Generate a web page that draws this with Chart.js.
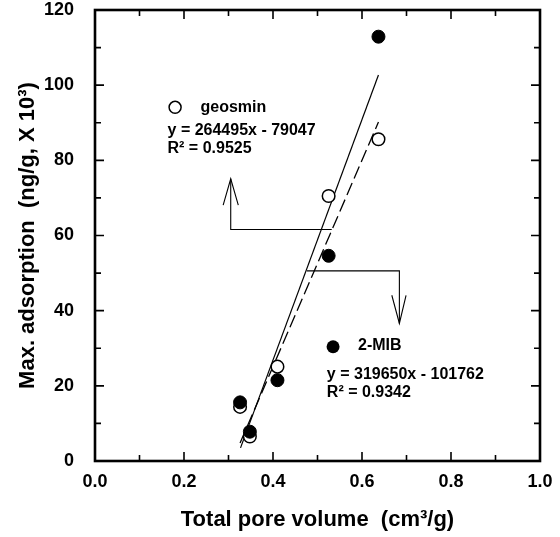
<!DOCTYPE html>
<html>
<head>
<meta charset="utf-8">
<script src="https://cdn.jsdelivr.net/npm/chart.js@4.4.0/dist/chart.umd.min.js"></script>
<style>
  html, body { margin: 0; padding: 0; background: #fff; }
  #wrap { width: 560px; height: 537px; }
</style>
</head>
<body>
<div id="wrap"><canvas id="c" width="560" height="537"></canvas></div>
<script>
// ---- data ----
const poreVolume = [0.326, 0.348, 0.410, 0.525, 0.637];   // cm3/g
const geosminAds = [14.4, 6.5, 25.1, 70.5, 85.6];          // ng/g x 10^3
const mibAds     = [15.6, 7.8, 21.5, 54.6, 112.9];         // ng/g x 10^3
const geosminFitX = [0.326, 0.637];
const geosminFitY = [4.8, 90.2];
const mibFitX = [0.327, 0.637];
const mibFitY = [3.5, 102.7];
const xTicks = [0, 0.2, 0.4, 0.6, 0.8, 1.0];
const yTicks = [0, 20, 40, 60, 80, 100, 120];
// annotation arrows (data coordinates)
const geoArrowX = [0.532, 0.305, 0.305];
const geoArrowY = [61.6, 61.6, 75.1];
const geoHeadX = [0.288, 0.305, 0.322];
const geoHeadY = [68.1, 75.1, 68.1];
const mibArrowX = [0.476, 0.684, 0.684];
const mibArrowY = [50.6, 50.6, 36.6];
const mibHeadX = [0.667, 0.684, 0.699];
const mibHeadY = [44.1, 36.6, 44.1];

const pts = (xs, ys) => xs.map((x, i) => ({x: x, y: ys[i]}));
const FONT = "'Liberation Sans', Arial, Helvetica, sans-serif";

const lineDs = (xs, ys, extra) => Object.assign({
  type: 'scatter', data: pts(xs, ys), showLine: true, borderColor: '#000',
  borderWidth: 1.1, pointRadius: 0, fill: false, order: 3
}, extra || {});

const frame = {
  id: 'frame',
  afterDatasetsDraw(chart) {
    const {ctx, chartArea: a, scales: {x, y}} = chart;
    ctx.save();
    ctx.strokeStyle = '#000';
    ctx.lineWidth = 1.6;
    for (let i = 1; i < 10; i++) {
      const v = i / 10, px = x.getPixelForValue(v);
      const len = (i % 2 === 0) ? 9 : 6;
      ctx.beginPath();
      ctx.moveTo(px, a.bottom); ctx.lineTo(px, a.bottom - len);
      ctx.moveTo(px, a.top); ctx.lineTo(px, a.top + len);
      ctx.stroke();
    }
    for (let i = 1; i < 12; i++) {
      const v = i * 10, py = y.getPixelForValue(v);
      const len = (i % 2 === 0) ? 9 : 6;
      ctx.beginPath();
      ctx.moveTo(a.left, py); ctx.lineTo(a.left + len, py);
      ctx.moveTo(a.right, py); ctx.lineTo(a.right - len, py);
      ctx.stroke();
    }
    ctx.lineWidth = 2.6;
    ctx.strokeRect(a.left, a.top, a.right - a.left, a.bottom - a.top);

    const X = v => x.getPixelForValue(v), Y = v => y.getPixelForValue(v);
    ctx.fillStyle = '#000';
    ctx.font = 'bold 16px ' + FONT;
    ctx.textBaseline = 'middle';
    ctx.textAlign = 'left';
    ctx.lineWidth = 1.5;
    ctx.beginPath(); ctx.arc(X(0.180), Y(94.1), 6, 0, Math.PI * 2);
    ctx.fillStyle = '#fff'; ctx.fill(); ctx.stroke();
    ctx.fillStyle = '#000';
    ctx.fillText('geosmin', X(0.237), Y(94.0));
    ctx.fillText('y = 264495x - 79047', X(0.163), Y(87.8));
    ctx.fillText('R\u00b2 = 0.9525', X(0.163), Y(83.0));
    ctx.beginPath(); ctx.arc(X(0.535), Y(30.4), 6.5, 0, Math.PI * 2);
    ctx.fill();
    ctx.fillText('2-MIB', X(0.591), Y(30.6));
    ctx.fillText('y = 319650x - 101762', X(0.521), Y(23.1));
    ctx.fillText('R\u00b2 = 0.9342', X(0.521), Y(18.1));
    ctx.restore();
  }
};

new Chart(document.getElementById('c'), {
  type: 'scatter',
  data: {
    datasets: [
      {
        label: '2-MIB', data: pts(poreVolume, mibAds),
        pointRadius: 6.5, pointBackgroundColor: '#000', pointBorderColor: '#000',
        pointBorderWidth: 1, order: 0
      },
      {
        label: 'geosmin', data: pts(poreVolume, geosminAds),
        pointRadius: 6.3, pointBackgroundColor: '#fff', pointBorderColor: '#000',
        pointBorderWidth: 1.5, order: 1
      },
      lineDs(mibFitX, mibFitY, {label: 'MIB fit', borderWidth: 1.2}),
      lineDs(geosminFitX, geosminFitY, {label: 'geosmin fit', borderWidth: 1.3, borderDash: [13, 5]}),
      lineDs(geoArrowX, geoArrowY, {label: 'a1'}),
      lineDs(geoHeadX, geoHeadY, {label: 'h1'}),
      lineDs(mibArrowX, mibArrowY, {label: 'a2'}),
      lineDs(mibHeadX, mibHeadY, {label: 'h2'})
    ]
  },
  options: {
    responsive: false,
    animation: false,
    devicePixelRatio: 1,
    layout: { padding: { top: 10, right: 20, left: 0, bottom: 0 } },
    plugins: { legend: { display: false }, tooltip: { enabled: false } },
    scales: {
      x: {
        type: 'linear', min: 0, max: 1,
        afterFit: s => { s.height = 76; },
        afterBuildTicks: s => { s.ticks = xTicks.map(v => ({value: v})); },
        grid: { display: false }, border: { display: false },
        ticks: { color: '#000', padding: 2, font: { family: FONT, size: 18, weight: 'bold' },
                 callback: v => Number(v).toFixed(1), maxRotation: 0 },
        title: { display: true, text: 'Total pore volume  (cm\u00b3/g)', color: '#000',
                 font: { family: FONT, size: 22, weight: 'bold' }, padding: { top: 0, bottom: 4 } }
      },
      y: {
        type: 'linear', min: 0, max: 120,
        afterFit: s => { s.width = 95; s.paddingTop = 0; s.paddingBottom = 0; },
        afterBuildTicks: s => { s.ticks = yTicks.map(v => ({value: v})); },
        grid: { display: false }, border: { display: false },
        ticks: { color: '#000', padding: 13, font: { family: FONT, size: 18, weight: 'bold', lineHeight: 0.4 },
                 callback: v => String(v) },
        title: { display: true, text: 'Max. adsorption  (ng/g, X 10\u00b3)', color: '#000',
                 font: { family: FONT, size: 22, weight: 'bold' }, padding: { top: 15, bottom: 0 } }
      }
    }
  },
  plugins: [frame]
});
</script>
</body>
</html>
